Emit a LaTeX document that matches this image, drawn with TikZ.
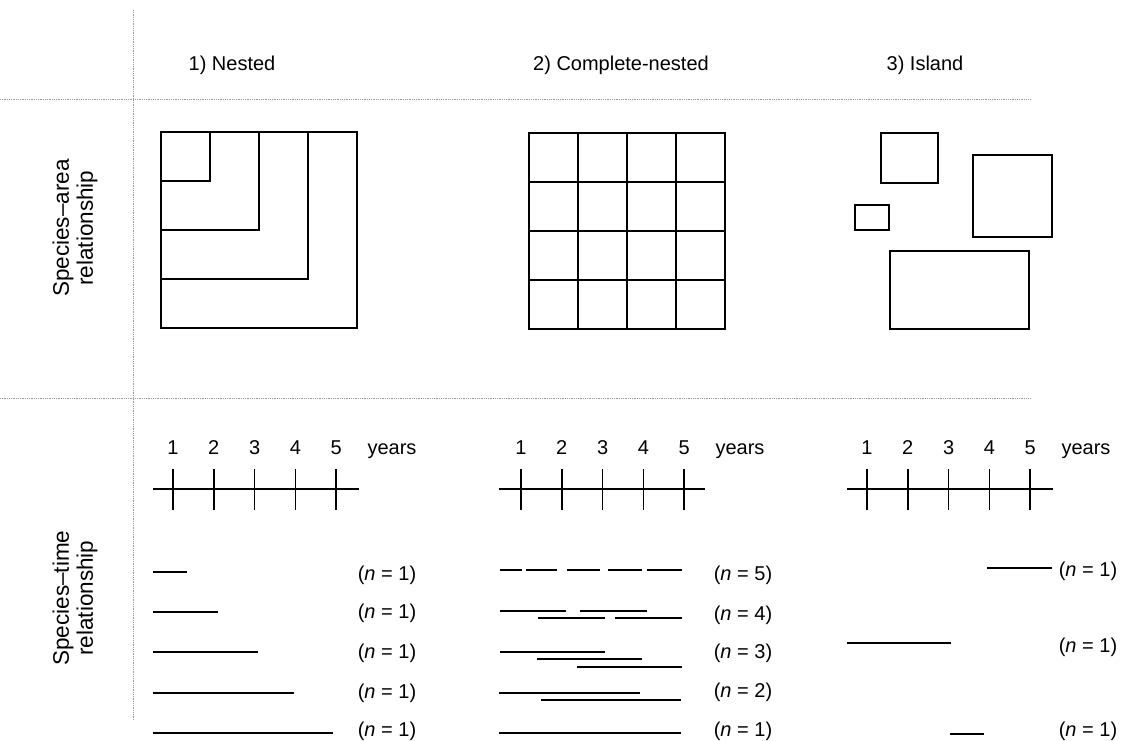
\documentclass[tikz,border=0pt]{standalone}
\usepackage{fontspec}
\setmainfont{Liberation Sans}
\usetikzlibrary{positioning}

\begin{document}
\begin{tikzpicture}[x=1pt,y=-1pt,
  every node/.style={font=\fontsize{20}{24}\selectfont,inner sep=0pt},
  rowhead/.style={rotate=90,align=center,font=\fontsize{22.5}{24}\selectfont},
  grid/.style={gray!80,densely dotted,line width=0.8pt},
  box/.style={draw,line width=1.5pt},
  span/.style={line width=1.6pt},
  tick/.style={line width=1.5pt}]
  \useasboundingbox (0,0) rectangle (1127,740);
  % Frame
  \draw[grid] (133,10) -- (133,720);
  \draw[grid] (0,99) -- (1030,99);
  \draw[grid] (0,398) -- (1030,398);
  % Column heads
  \node (nested) at (232,65) {1) Nested};
  \node (complete) at (621,65) {2) Complete-nested};
  \node (island) at (925,65) {3) Island};
  % Row heads
  \node[rowhead] (sarea) at (75,228) {Species--area\\relationship};
  \node[rowhead] (stime) at (75,598) {Species--time\\relationship};
  % Nested squares
  \foreach \s in {49,98,147,196}
    \draw[box] (161,132) rectangle ++(\s,\s);
  % Complete-nested grid
  \foreach \i in {0,...,3}
    \foreach \j in {0,...,3}
      \draw[box] (529+49*\i,133+49*\j) rectangle ++(49,49);
  % Islands
  \draw[box] (881,133) rectangle (938,183);
  \draw[box] (855,205) rectangle (889,230);
  \draw[box] (973,155) rectangle (1052,237);
  \draw[box] (890,251) rectangle (1029,329);
  % Time axes
  \foreach \a/\t/\c in {153/173/A,499/521/B,847/867/C} {
    \draw[tick] (\a,489) -- ++(206,0);
    \foreach \k in {1,...,5} {
      \draw[tick] (\t+40.8*\k-40.8,469) -- ++(0,41);
      \node[anchor=base] (yr\c\k) at (\t+40.8*\k-40.8,454) {\k};
    }
    \node[anchor=base] (years\c) at (\t+219,454) {years};
  }
  % Nested samples
  \foreach \y/\e/\l in {572/187/575,612/218/613,652/258/653,693/294/693,733/333/731} {
    \draw[span] (153,\y) -- (\e,\y);
    \node (nA\y) at (387,\l) {(\textit{n} = 1)};
  }
  % Complete-nested samples
  \foreach \b/\e in {500/522,526/557,567/600,608/642,647/682}
    \draw[span] (\b,570) -- (\e,570);
  \draw[span] (500,611) -- (566,611);
  \draw[span] (580,611) -- (647,611);
  \draw[span] (538,618) -- (605,618);
  \draw[span] (615,618) -- (682,618);
  \draw[span] (500,652) -- (605,652);
  \draw[span] (537,659) -- (642,659);
  \draw[span] (577,667) -- (682,667);
  \draw[span] (499,693) -- (640,693);
  \draw[span] (541,700) -- (681,700);
  \draw[span] (499,733) -- (681,733);
  \foreach \y/\n in {575/5,615/4,653/3,692/2,731/1}
    \node (nB\n) at (743,\y) {(\textit{n} = \n)};
  % Island samples
  \draw[span] (987,568) -- (1052,568);
  \draw[span] (847,643) -- (951,643);
  \draw[span] (950,734) -- (984,734);
  \foreach \y in {571,647,731}
    \node (nC\y) at (1088,\y) {(\textit{n} = 1)};
\end{tikzpicture}
\end{document}
